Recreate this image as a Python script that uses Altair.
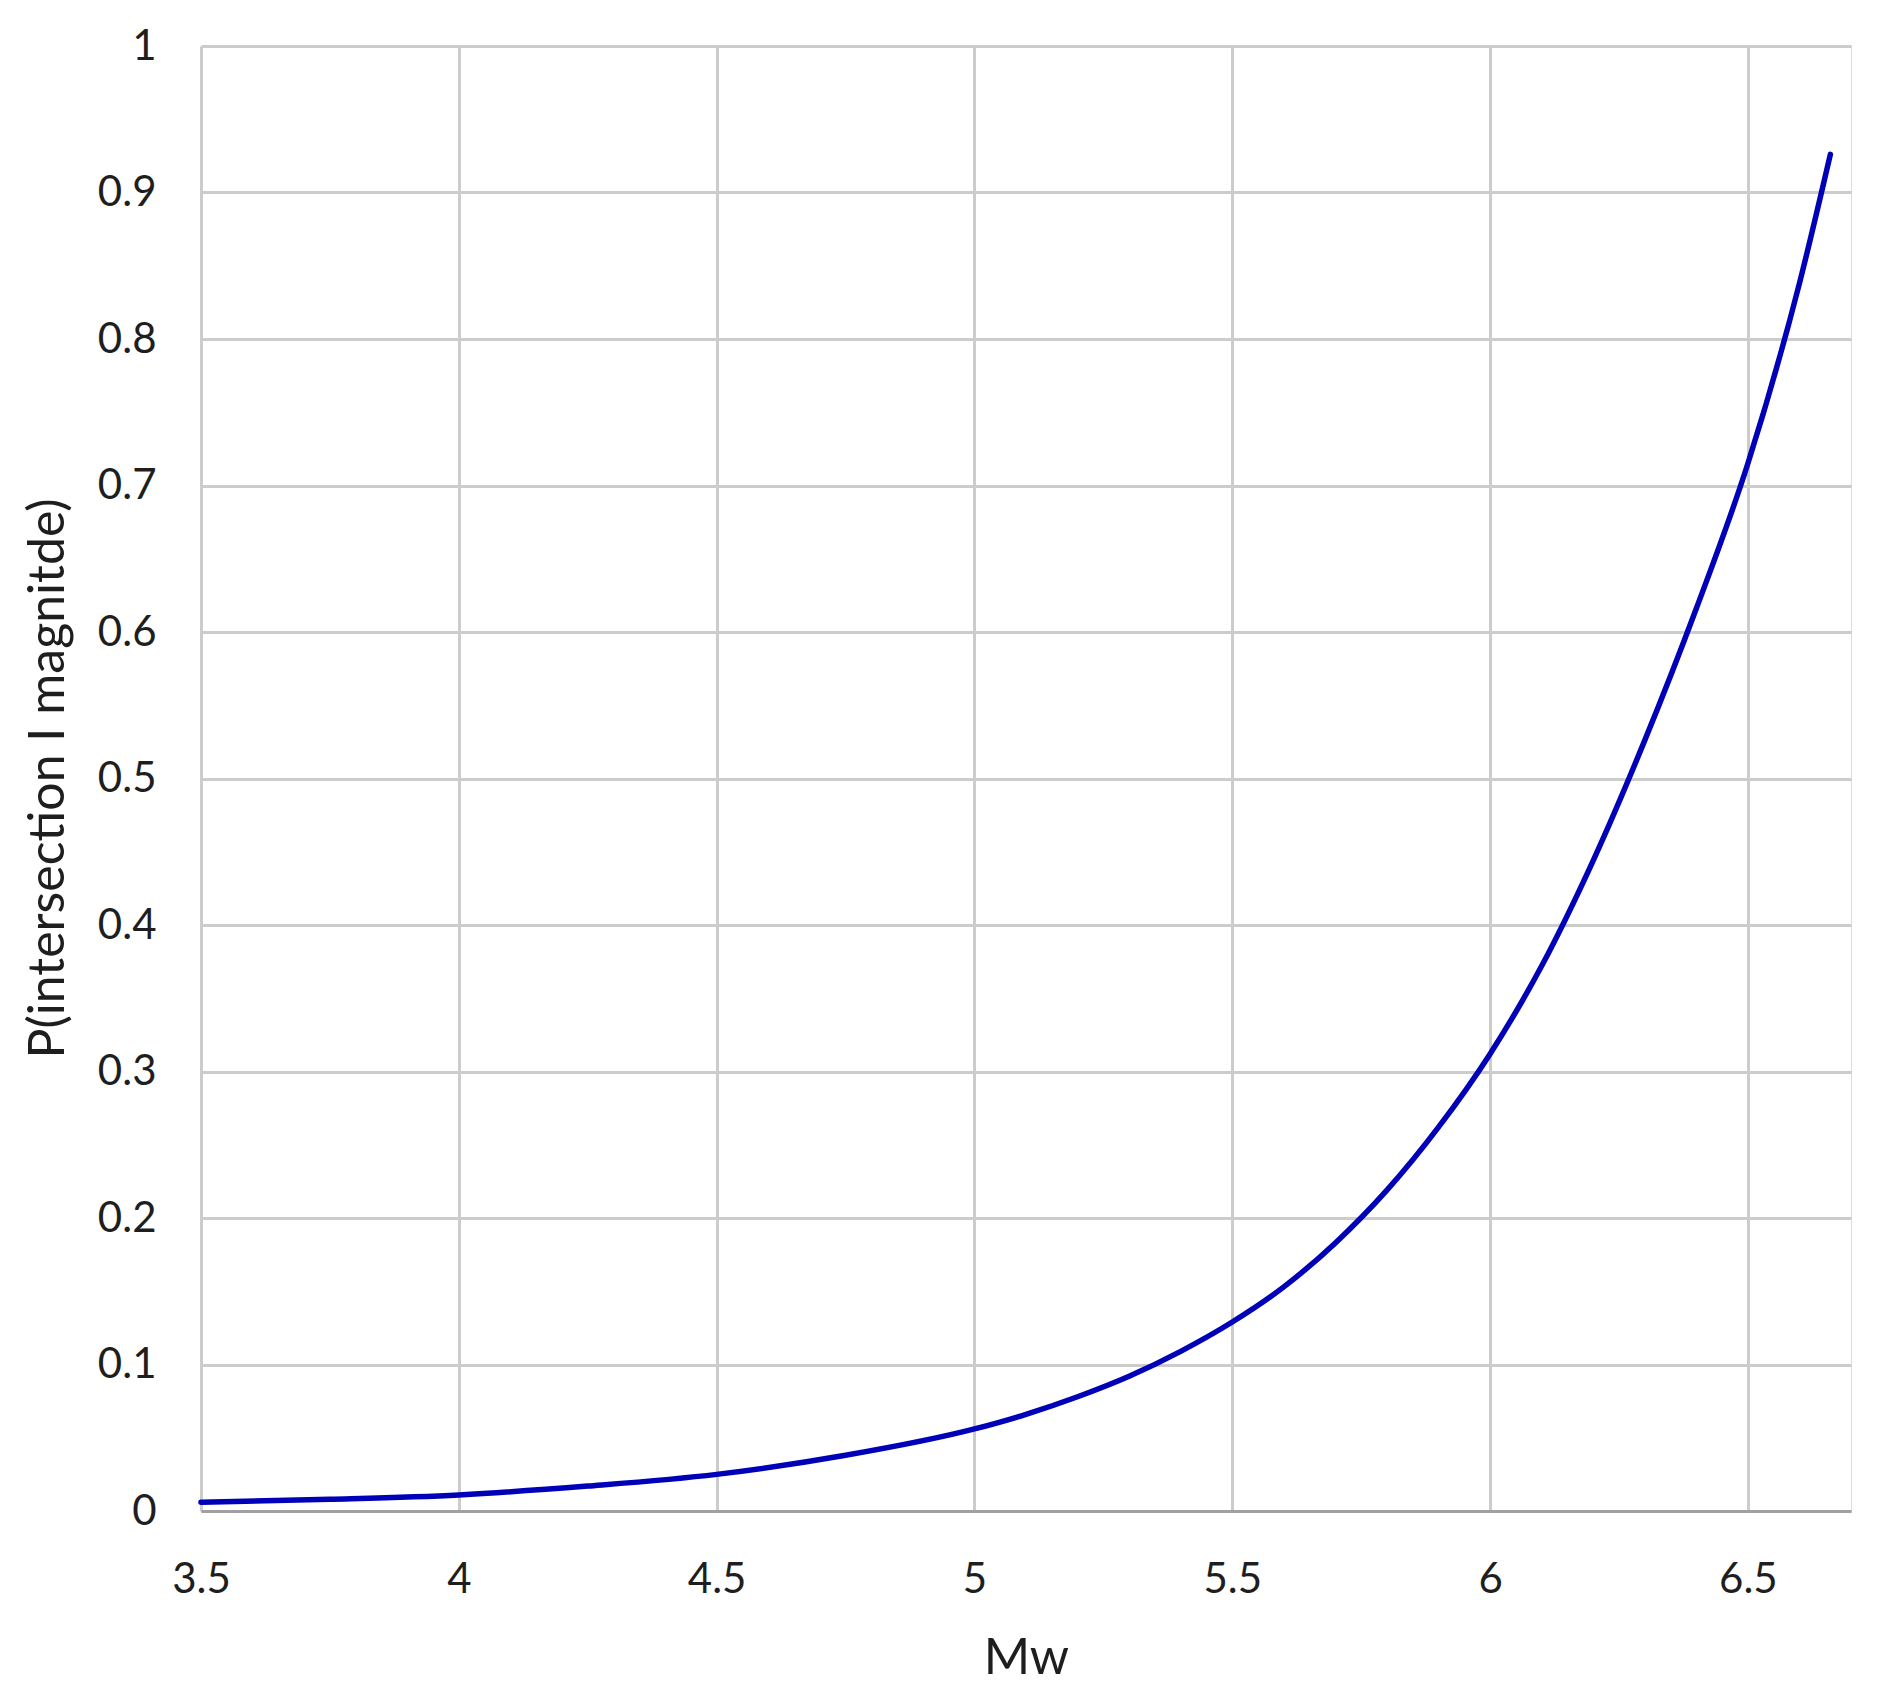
import altair as alt
import pandas as pd

# Curve values
mw = [3.5, 3.75, 4.0, 4.25, 4.5, 4.75, 5.0, 5.1, 5.2, 5.3, 5.4, 5.5, 5.6, 5.7,
      5.8, 5.9, 6.0, 6.1, 6.2, 6.3, 6.4, 6.5, 6.6, 6.66]
prob = [0.006, 0.008, 0.011, 0.017, 0.025, 0.038, 0.056, 0.066, 0.078, 0.092,
        0.109, 0.129, 0.153, 0.183, 0.219, 0.262, 0.312, 0.372, 0.444, 0.526,
        0.616, 0.715, 0.838, 0.926]

x_ticks = [3.5, 4.0, 4.5, 5.0, 5.5, 6.0, 6.5]
y_ticks = [0, 0.1, 0.2, 0.3, 0.4, 0.5, 0.6, 0.7, 0.8, 0.9, 1.0]

df = pd.DataFrame({"Mw": mw, "P": prob})

FONT = "Lato"
TEXT = "#1e1e1e"

chart = alt.Chart(df).mark_line(
    color="#0000B8", strokeWidth=5.5, interpolate="monotone", strokeCap="round"
).encode(
    x=alt.X("Mw:Q",
            scale=alt.Scale(domain=[3.5, 6.7], nice=False, zero=False),
            axis=alt.Axis(values=x_ticks, format="~g", title="Mw",
                          grid=True, gridColor="#CCCCCC", gridWidth=3,
                          domain=True, domainColor="#A0A0A0", domainWidth=3,
                          ticks=False, labelPadding=48, labelFlush=False,
                          labelFont=FONT, labelFontSize=42, labelColor=TEXT,
                          titleFont=FONT, titleFontSize=50, titleFontWeight="normal",
                          titleColor=TEXT, titleX=825, titleY=147,
                          titleBaseline="middle", titleAlign="center")),
    y=alt.Y("P:Q",
            scale=alt.Scale(domain=[0, 1], nice=False),
            axis=alt.Axis(values=y_ticks, format="~g",
                          title="P(intersection I magnitde)",
                          grid=True, gridColor="#CCCCCC", gridWidth=3,
                          domain=False, ticks=False, labelPadding=45,
                          labelFlush=False,
                          labelFont=FONT, labelFontSize=42, labelColor=TEXT,
                          titleFont=FONT, titleFontSize=50, titleFontWeight="normal",
                          titleColor=TEXT, titleX=-153, titleY=732, titleAngle=-90,
                          titleBaseline="middle", titleAlign="center")),
).properties(
    width=1650,
    height=1465,
    autosize=alt.AutoSizeParams(type="none"),
    padding={"left": 193, "top": 38, "right": 20, "bottom": 180},
).configure_view(stroke=None).configure(background="white")

chart.save("out.html", embed_options={"renderer": "svg", "actions": False})
